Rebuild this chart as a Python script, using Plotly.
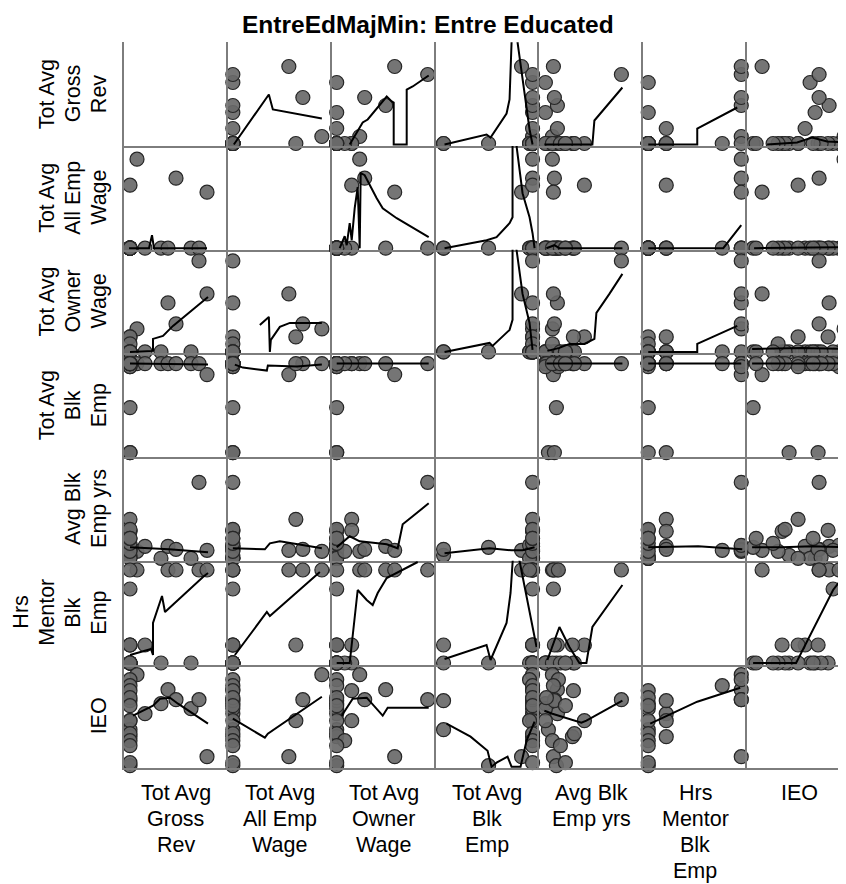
import plotly.graph_objects as go

# ---------------- data (relative units) ----------------
var_labels = [["Tot Avg", "Gross", "Rev"], ["Tot Avg", "All Emp", "Wage"], ["Tot Avg", "Owner", "Wage"],
              ["Tot Avg", "Blk", "Emp"], ["Avg Blk", "Emp yrs"], ["Hrs", "Mentor", "Blk", "Emp"], ["IEO"]]

gross_rev      = [8, 16, 32, 39, 47, 62, 70, 78, 1, 1, 1, 1, 1, 1, 1, 1, 1, 1, 1, 1, 1, 1, 1]
all_emp_wage   = [89, 0, 0, 0, 70, 0, 0, 56, 63, 0, 0, 0, 0, 0, 0, 0, 0, 0, 0, 0, 0, 0, 0]
owner_wage     = [23, 0, 0, 49, 28, 0, 91, 58, 15, 0, 0, 0, 0, 0, 0, 15, 0, 0, 0, 8, 0, 0, 0]
blk_emp        = [92, 92, 92, 92, 92, 92, 92, 81, 92, 48, 3, 3, 89, 92, 92, 92, 92, 89, 92, 92, 92, 92, 92]
blk_emp_yrs    = [8, 13, 1, 13, 10, 1, 77, 9, 40, 12, 4, 10, 14, 9, 28, 29, 2, 1, 30, 8, 16, 21, 21]
hrs_mentor     = [93, 18, 0, 93, 93, 0, 93, 93, 18, 0, 0, 18, 93, 74, 18, 0, 0, 0, 0, 0, 0, 0, 0]
ieo            = [92, 53, 63, 77, 67, 58, 67, 10, 46, 1, 37, 66, 87, 81, 30, 76, 69, 46, 33, 26, 21, 4, 61]

# loess fit lines: [x, y] in the cell's units, keyed row_col
fit_1_2 = [[1, 0], [36, 50], [40, 35], [89, 26]]
fit_1_3 = [[13, 0], [26, 22], [31, 25], [50, 48], [55, 43], [57, 42], [57, 0], [70, 0], [70, 55], [76, 58], [92, 69]]
fit_1_4 = [[4, 0], [46, 10], [50, 7], [66, 31], [69, 45], [71, 102], [72, 130], [76, 130], [77, 102], [89, 15], [92, 0]]
fit_1_5 = [[0, 0], [48, 0], [50, 24], [78, 57]]
fit_1_6 = [[0, 0], [49, 0], [49, 16], [89, 37]]
fit_1_7 = [[15, 0], [45, 2], [60, 7], [75, 3], [94, 2]]
fit_2_1 = [[0, 0], [20, 0], [23, 13], [25, 0], [78, 0]]
fit_2_3 = [[3, 0], [8, 12], [10, 3], [13, 25], [15, 8], [18, 40], [21, 61], [23, 0], [24, 75], [28, 73],
           [40, 50], [46, 40], [60, 30], [92, 11]]
fit_2_4 = [[4, 0], [46, 8], [56, 11], [69, 25], [72, 31], [72, 102], [74, 130], [76, 102], [82, 55], [89, 31], [92, 15], [94, 0]]
fit_2_5 = [[2, 0], [10, 3], [15, 0], [78, 0]]
fit_2_6 = [[0, 0], [75, 0], [93, 23]]
fit_2_7 = [[2, 0], [94, 1]]
fit_3_1 = [[1, 0], [24, 1], [24, 13], [34, 16], [44, 26], [79, 55]]
fit_3_2 = [[27, 27], [36, 35], [37, 0], [38, 12], [47, 25], [57, 29], [89, 29]]
fit_3_4 = [[4, 0], [49, 9], [52, 6], [69, 22], [72, 32], [72, 102], [74, 130], [76, 102], [82, 58], [89, 29], [92, 2]]
fit_3_5 = [[3, 1], [15, 4], [25, 8], [40, 8], [50, 13], [52, 39], [65, 58], [78, 78]]
fit_3_6 = [[0, 0], [49, 0], [49, 8], [89, 26]]
fit_3_7 = [[0, 3], [50, 4], [94, 3]]
fit_4_1 = [[1, 92], [79, 91]]
fit_4_2 = [[2, 91], [10, 88], [34, 85], [35, 90], [64, 89], [89, 91]]
fit_4_3 = [[0, 92], [92, 92]]
fit_4_5 = [[2, 92], [78, 92]]
fit_4_6 = [[0, 92], [93, 92]]
fit_4_7 = [[0, 92], [94, 92]]
fit_5_1 = [[1, 12], [40, 10], [79, 7]]
fit_5_2 = [[0, 11], [32, 10], [37, 16], [47, 18], [89, 11]]
fit_5_3 = [[0, 12], [13, 23], [23, 18], [50, 15], [61, 11], [66, 35], [76, 43], [92, 56]]
fit_5_4 = [[4, 6], [49, 11], [71, 9], [82, 9], [94, 12]]
fit_5_6 = [[0, 12], [50, 13], [94, 10]]
fit_5_7 = [[0, 12], [30, 12], [60, 13], [94, 12]]
fit_6_1 = [[1, 8], [22, 14], [24, 8], [24, 40], [33, 67], [36, 51], [74, 86], [79, 90]]
fit_6_2 = [[2, 8], [34, 51], [37, 47], [87, 91]]
fit_6_3 = [[0, 0], [13, 0], [21, 73], [30, 63], [36, 58], [41, 70], [50, 85], [60, 90], [81, 101]]
fit_6_4 = [[4, 4], [46, 18], [50, 3], [66, 40], [70, 70], [71, 102], [74, 130], [79, 102], [96, 16]]
fit_6_5 = [[3, 3], [15, 36], [25, 16], [35, 0], [42, 0], [48, 36], [78, 78]]
fit_6_7 = [[1, 0], [44, 0], [81, 73], [94, 90]]
fit_7_1 = [[4, 51], [24, 61], [31, 68], [41, 69], [49, 63], [79, 43]]
fit_7_2 = [[0, 48], [32, 29], [35, 33], [89, 70]]
fit_7_3 = [[5, 51], [16, 68], [30, 69], [46, 51], [51, 59], [92, 59]]
fit_7_4 = [[6, 43], [30, 30], [47, 16], [51, 0], [56, 4], [67, 10], [71, 0], [80, 0], [86, 26], [94, 45]]
fit_7_5 = [[0, 56], [8, 53], [37, 44], [42, 46], [78, 66]]
fit_7_6 = [[2, 43], [15, 49], [49, 65], [92, 79]]

# ---------------- build ----------------
variables = [gross_rev, all_emp_wage, owner_wage, blk_emp, blk_emp_yrs, hrs_mentor, ieo]
fits = {k: v for k, v in globals().items() if k.startswith("fit_")}

PAGE_W = 846
OFF = 8                      # default page margin around the plot div
W, H = 846 - OFF, 884 - OFF  # figure size so that it fits the window
N = 7
CELL_W, CELL_H = 103.85, 103.7
LEFT, TOP = 124.0, 42.3      # page pixels
XR = [-5, -5 + CELL_W]
YR = [-1.5, -1.5 + CELL_H]
GRID = "#7d7d7d"
LINE_STEP = 26


def px(x):
    return (x - OFF) / W


def py(y):
    return 1 - (y - OFF) / H


fig = go.Figure()
layout = dict()

for r in range(N):
    for c in range(N):
        k = r * N + c + 1
        x0 = LEFT + c * CELL_W
        x1 = min(x0 + CELL_W, PAGE_W)
        y0 = TOP + r * CELL_H
        y1 = y0 + CELL_H
        xr = [XR[0], XR[0] + (x1 - x0)]
        xs = "" if k == 1 else str(k)
        layout["xaxis" + xs] = dict(domain=[px(x0), px(x1)], range=xr, anchor="y" + xs,
                                    showline=True, linecolor=GRID, linewidth=2,
                                    showgrid=False, zeroline=False, showticklabels=False,
                                    ticks="", layer="above traces", fixedrange=True)
        layout["yaxis" + xs] = dict(domain=[py(y1), py(y0)], range=YR, anchor="x" + xs,
                                    showline=True, linecolor=GRID, linewidth=2,
                                    showgrid=False, zeroline=False, showticklabels=False,
                                    ticks="", layer="above traces", fixedrange=True)
        if r == c:
            fig.add_trace(go.Scatter(x=[], y=[], xaxis="x" + xs, yaxis="y" + xs,
                                     showlegend=False, hoverinfo="skip"))
            continue
        fig.add_trace(go.Scatter(
            x=variables[c], y=variables[r], mode="markers", xaxis="x" + xs, yaxis="y" + xs,
            cliponaxis=False, showlegend=False,
            marker=dict(size=14, color="rgba(105,105,105,0.92)", line=dict(color="#262626", width=1.2))))
        pts = fits["fit_%d_%d" % (r + 1, c + 1)]
        fig.add_trace(go.Scatter(
            x=[p[0] for p in pts], y=[p[1] for p in pts], mode="lines",
            xaxis="x" + xs, yaxis="y" + xs, showlegend=False,
            line=dict(color="black", width=2)))

annotations = []
LBL_FONT = dict(family="Liberation Sans, Arial, sans-serif", size=21.5, color="#000")
for i, lines in enumerate(var_labels):
    n = len(lines)
    cx = LEFT + i * CELL_W + CELL_W / 2
    cy = TOP + i * CELL_H + CELL_H / 2
    for j, txt in enumerate(lines):
        # bottom (column) label lines
        annotations.append(dict(text=txt, xref="paper", yref="paper", x=px(cx), y=py(792.5 + LINE_STEP * j),
                                xanchor="center", yanchor="middle", showarrow=False, font=LBL_FONT))
        # left (row) label lines, rotated
        annotations.append(dict(text=txt, xref="paper", yref="paper",
                                x=px(99 - LINE_STEP * (n - 1 - j)), y=py(cy),
                                xanchor="center", yanchor="middle", showarrow=False,
                                textangle=-90, font=LBL_FONT))

# title as an annotation, kept fully inside the figure
annotations.append(dict(text="<b>EntreEdMajMin: Entre Educated</b>", xref="paper", yref="paper",
                        x=px(427.5), y=py(9.5), xanchor="center", yanchor="top", showarrow=False,
                        font=dict(family="Liberation Sans, Arial, sans-serif", size=24.5, color="#000")))

layout.update(
    width=W, height=H, margin=dict(l=0, r=0, t=0, b=0),
    paper_bgcolor="white", plot_bgcolor="rgba(0,0,0,0)",
    annotations=annotations,
)
fig.update_layout(**layout)
fig.write_html("out.html")
